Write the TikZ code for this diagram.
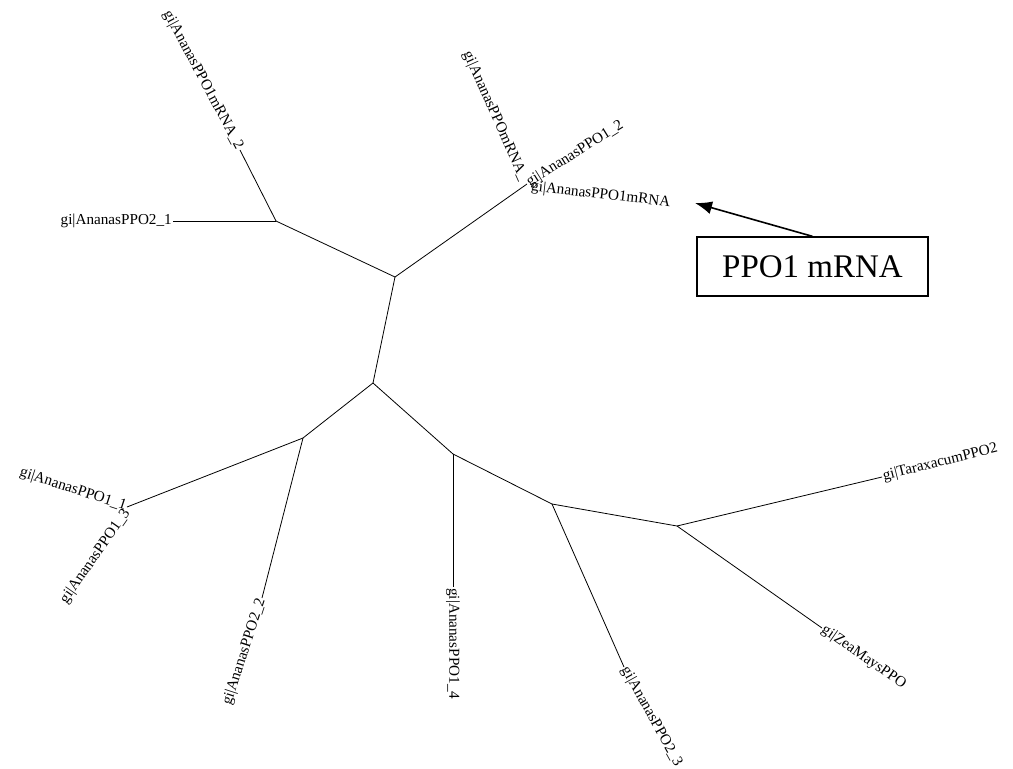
\documentclass[tikz,border=0pt]{standalone}
\usepackage{fontspec}
\setmainfont{Liberation Serif}
\usetikzlibrary{arrows.meta}
\begin{document}
\begin{tikzpicture}[x=1pt,y=-1pt,
  edge/.style={line width=0.8pt, black},
  leaf/.style={font=\fontsize{15.2}{18}\selectfont, inner sep=1pt},
  callout/.style={draw, line width=1.3pt, minimum width=231pt, minimum height=59pt,
                  inner sep=0pt, font=\fontsize{33}{38}\selectfont}]
\useasboundingbox (0,0) rectangle (1013,769);
% internal nodes
\coordinate (A) at (276,221);
\coordinate (B) at (395,277);
\coordinate (C) at (373,383);
\coordinate (D) at (303,438);
\coordinate (E) at (453,454);
\coordinate (F) at (552,504);
\coordinate (G) at (677,526);
% leaves
\coordinate (lmrnaB) at (240,150);
\coordinate (lppoBa) at (173,221);
\coordinate (ltr) at (527,184);
\coordinate (lleft) at (127,507);
\coordinate (lppoBb) at (262,598);
\coordinate (lppoAd) at (453,587);
\coordinate (lppoBc) at (624,667);
\coordinate (ltar) at (882,477);
\coordinate (lzea) at (822,628);
% edges
\draw[edge] (A) -- (lmrnaB);
\draw[edge] (A) -- (lppoBa);
\draw[edge] (A) -- (B);
\draw[edge] (B) -- (ltr);
\draw[edge] (B) -- (C);
\draw[edge] (C) -- (D);
\draw[edge] (C) -- (E);
\draw[edge] (D) -- (lleft);
\draw[edge] (D) -- (lppoBb);
\draw[edge] (E) -- (lppoAd);
\draw[edge] (E) -- (F);
\draw[edge] (F) -- (lppoBc);
\draw[edge] (F) -- (G);
\draw[edge] (G) -- (ltar);
\draw[edge] (G) -- (lzea);
% labels
\node[leaf, anchor=east, rotate=-62] (t1) at (lmrnaB) {gi|AnanasPPO1mRNA\_2};
\node[leaf, anchor=east] (t2) at (lppoBa) {gi|AnanasPPO2\_1};
\node[leaf, anchor=east, rotate=-66] (t3) at ([shift={(-3,-3)}]ltr) {gi|AnanasPPOmRNA\_};
\node[leaf, anchor=west, rotate=32] (t4) at (ltr) {gi|AnanasPPO1\_2};
\node[leaf, anchor=west, rotate=-6.5] (t5) at ([shift={(3,3)}]ltr) {gi|AnanasPPO1mRNA};
\node[leaf, anchor=east, rotate=-18] (t6) at (lleft) {gi|AnanasPPO1\_1};
\node[leaf, anchor=east, rotate=55] (t7) at ([shift={(1,3)}]lleft) {gi|AnanasPPO1\_3};
\node[leaf, anchor=east, rotate=72] (t8) at (lppoBb) {gi|AnanasPPO2\_2};
\node[leaf, anchor=west, rotate=-90] (t9) at (lppoAd) {gi|AnanasPPO1\_4};
\node[leaf, anchor=west, rotate=-61] (t10) at (lppoBc) {gi|AnanasPPO2\_3};
\node[leaf, anchor=west, rotate=-35] (t11) at (lzea) {gi|ZeaMaysPPO};
\node[leaf, anchor=west, rotate=14] (t12) at (ltar) {gi|TaraxacumPPO2};
% callout
\node[callout] (box) at (812.5,266.5) {PPO1 mRNA};
\coordinate (tip) at (695,203);
\draw[line width=1.6pt, -{Latex[length=17pt,width=13pt]}] (box.north) -- (tip);
\end{tikzpicture}
\end{document}
